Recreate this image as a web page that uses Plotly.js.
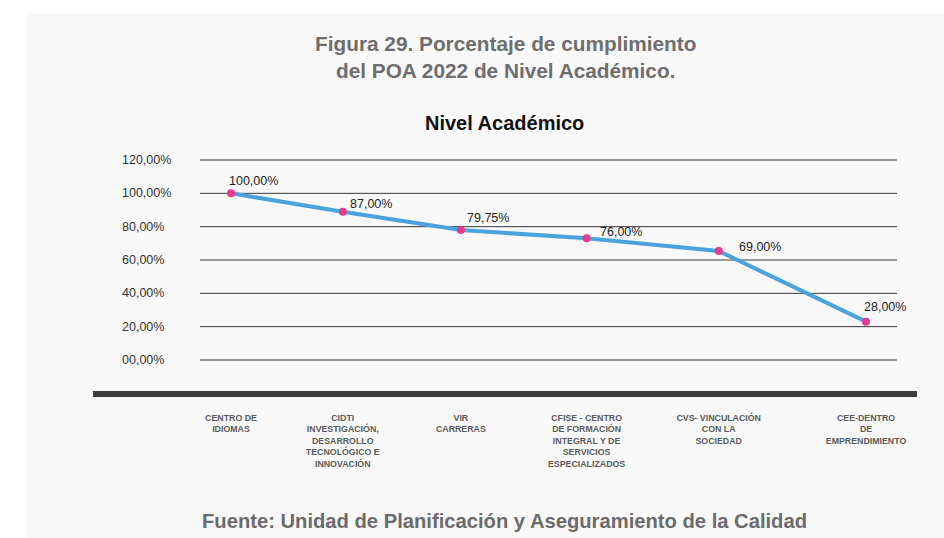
<!DOCTYPE html>
<html>
<head>
<meta charset="utf-8">
<script src="https://cdn.plot.ly/plotly-3.0.1.min.js"></script>
<style>
  html, body { margin: 0; padding: 0; background: #ffffff; }
  #plot { width: 944px; height: 538px; }
</style>
</head>
<body>
<div id="plot"></div>
<script>
// ================================
// NIVEL ACADÉMICO — POA 2022
// ================================

// Categories (tick text, with the line breaks seen in the picture)
const categories = [
  "CENTRO DE<br>IDIOMAS",
  "CIDTI<br>INVESTIGACIÓN,<br>DESARROLLO<br>TECNOLÓGICO E<br>INNOVACIÓN",
  "VIR<br>CARRERAS",
  "CFISE - CENTRO<br>DE FORMACIÓN<br>INTEGRAL Y DE<br>SERVICIOS<br>ESPECIALIZADOS",
  "CVS- VINCULACIÓN<br>CON LA<br>SOCIEDAD",
  "CEE-DENTRO<br>DE<br>EMPRENDIMIENTO"
];

// Where each category sits along the x axis
const catX = [0, 0.88, 1.81, 2.80, 3.84, 5.0];

// Plotted values (as drawn) and the printed labels
const values = [100, 89, 78, 73, 65.4, 23];
const valueLabels = ["100,00%", "87,00%", "79,75%", "76,00%", "69,00%", "28,00%"];

// Y ticks
const yTicks = [0, 20, 40, 60, 80, 100, 120];
const yTickLabels = ["00,00%", "20,00%", "40,00%", "60,00%", "80,00%", "100,00%", "120,00%"];

// -------------------------------
// LABEL OFFSETS (px)
// -------------------------------
const labelDx = [-4, 5, 4, 11, 18, -4];
const labelDy = [12, 8, 12, 6, 4, 15];

const FONT = "Liberation Sans, Arial, sans-serif";

const lineTrace = {
  x: catX,
  y: values,
  mode: "lines+markers",
  line: { color: "#4aa3de", width: 4 },
  marker: { color: "#e63a8c", size: 8 },
  hoverinfo: "skip",
  showlegend: false
};

const annotations = [];

// value labels
values.forEach((v, i) => {
  annotations.push({
    x: catX[i], y: v, xref: "x", yref: "y",
    text: valueLabels[i],
    showarrow: false,
    xanchor: "left", yanchor: "middle",
    xshift: labelDx[i], yshift: labelDy[i],
    font: { family: FONT, size: 12.5, color: "#222222" }
  });
});

// y tick labels, left aligned
yTicks.forEach((t, i) => {
  annotations.push({
    x: -0.1148, y: t, xref: "paper", yref: "y",
    text: yTickLabels[i],
    showarrow: false,
    xanchor: "left", yanchor: "middle",
    font: { family: FONT, size: 12.5, color: "#333333" }
  });
});

// titles
annotations.push({
  x: 0.4376, y: 1.505, xref: "paper", yref: "paper",
  text: "<b>Figura 29. Porcentaje de cumplimiento<br>del POA 2022 de Nivel Académico.</b>",
  showarrow: false, xanchor: "center", yanchor: "middle",
  font: { family: FONT, size: 20.8, color: "#6e6e6e" }
});
annotations.push({
  x: 0.4369, y: 1.178, xref: "paper", yref: "paper",
  text: "<b>Nivel Académico</b>",
  showarrow: false, xanchor: "center", yanchor: "middle",
  font: { family: FONT, size: 20, color: "#111111" }
});
annotations.push({
  x: 0.4369, y: -0.792, xref: "paper", yref: "paper",
  text: "<b>Fuente: Unidad de Planificación y Aseguramiento de la Calidad</b>",
  showarrow: false, xanchor: "center", yanchor: "middle",
  font: { family: FONT, size: 20.2, color: "#6b6b6b" }
});

const shapes = [
  // light panel
  {
    type: "rect", xref: "paper", yref: "paper", layer: "below",
    x0: -0.2497, x1: 1.07, y0: -0.876, y1: 1.723,
    fillcolor: "#f9f9f9", line: { width: 0 }
  },
  // thick base bar
  {
    type: "line", xref: "paper", yref: "paper",
    x0: -0.1535, x1: 1.0287, y0: -0.163, y1: -0.163,
    line: { color: "#3d3d3d", width: 6 }
  }
];

// horizontal gridlines (edges included)
yTicks.forEach((t) => {
  shapes.push({
    type: "line", xref: "paper", yref: "y", layer: "below",
    x0: 0, x1: 1, y0: t, y1: t,
    line: { color: "#383838", width: 1 }
  });
});

Plotly.newPlot(
  "plot",
  [lineTrace],
  {
    width: 944,
    height: 538,
    margin: { t: 159, r: 47, l: 200, b: 177 },
    paper_bgcolor: "#ffffff",
    plot_bgcolor: "rgba(0,0,0,0)",
    showlegend: false,
    xaxis: {
      range: [-0.244, 5.244],
      tickvals: catX,
      ticktext: categories,
      showgrid: false,
      zeroline: false,
      showline: false,
      ticks: "",
      ticklabelstandoff: 50,
      automargin: false,
      tickfont: { family: FONT, size: 8.8, color: "#5a5a5a", weight: "bold" },
      fixedrange: true
    },
    yaxis: {
      range: [-0.6, 120.6],
      tickvals: yTicks,
      showticklabels: false,
      showgrid: false,
      zeroline: false,
      showline: false,
      automargin: false,
      fixedrange: true
    },
    annotations: annotations,
    shapes: shapes
  },
  { displayModeBar: false, staticPlot: true }
);
</script>
</body>
</html>
